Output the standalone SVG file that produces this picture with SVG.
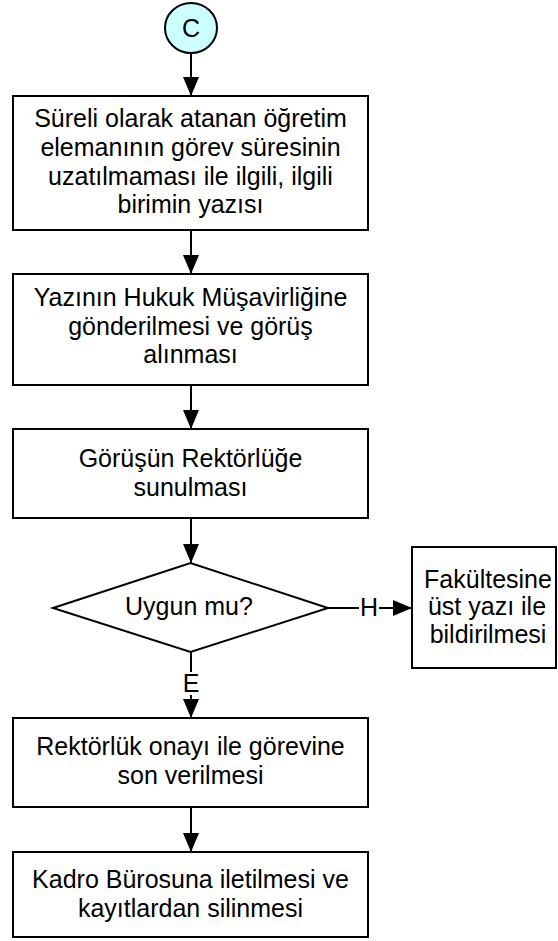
<svg xmlns="http://www.w3.org/2000/svg" width="558" height="941" viewBox="0 0 558 941">
<style>
.box{fill:#ffffff;stroke:#000000;stroke-width:2}
.conn{fill:none;stroke:#000000;stroke-width:2}
text{font-family:"Liberation Sans",Arial,sans-serif;font-size:25px;fill:#000000;text-anchor:middle}
</style>
<defs>
<marker id="ah" markerWidth="20" markerHeight="16" refX="19" refY="8" orient="auto" markerUnits="userSpaceOnUse">
<path d="M0,0 L19,8 L0,16 z" fill="#000000"/>
</marker>
</defs>
<rect width="558" height="941" fill="#ffffff"/>
<g id="connectors">
<line class="conn" x1="191" y1="53" x2="191" y2="96" marker-end="url(#ah)"/>
<line class="conn" x1="191" y1="230" x2="191" y2="274" marker-end="url(#ah)"/>
<line class="conn" x1="191" y1="385" x2="191" y2="429" marker-end="url(#ah)"/>
<line class="conn" x1="191" y1="518" x2="191" y2="563" marker-end="url(#ah)"/>
<line class="conn" x1="191" y1="652" x2="191" y2="672"/>
<line class="conn" x1="191" y1="695" x2="191" y2="718" marker-end="url(#ah)"/>
<text x="191" y="692">E</text>
<line class="conn" x1="328" y1="608" x2="359" y2="608"/>
<line class="conn" x1="379" y1="608" x2="412" y2="608" marker-end="url(#ah)"/>
<text x="369" y="616">H</text>
<line class="conn" x1="191" y1="807" x2="191" y2="852" marker-end="url(#ah)"/>
</g>
<g id="start">
<ellipse cx="191" cy="28" rx="26" ry="25" fill="#ccffff" stroke="#000000" stroke-width="2"/>
<text x="191" y="37">C</text>
</g>
<g id="n1">
<rect class="box" x="13" y="96" width="355" height="134"/>
<text x="190.5" y="127">Süreli olarak atanan öğretim</text>
<text x="190.5" y="156">elemanının görev süresinin</text>
<text x="190.5" y="185">uzatılmaması ile ilgili, ilgili</text>
<text x="190.5" y="213">birimin yazısı</text>
</g>
<g id="n2">
<rect class="box" x="13" y="274" width="355" height="111"/>
<text x="190.5" y="306">Yazının Hukuk Müşavirliğine</text>
<text x="190.5" y="335">gönderilmesi ve görüş</text>
<text x="190.5" y="363">alınması</text>
</g>
<g id="n3">
<rect class="box" x="13" y="429" width="355" height="89"/>
<text x="190.5" y="467">Görüşün Rektörlüğe</text>
<text x="190.5" y="496">sunulması</text>
</g>
<g id="d1">
<polygon points="53,608 190.5,563 328,608 190.5,652" fill="#ffffff" stroke="#000000" stroke-width="2"/>
<text x="189" y="615">Uygun mu?</text>
</g>
<g id="n4">
<rect class="box" x="412" y="547" width="144" height="121"/>
<text x="488" y="588">Fakültesine</text>
<text x="487" y="615">üst yazı ile</text>
<text x="488" y="643">bildirilmesi</text>
</g>
<g id="n5">
<rect class="box" x="13" y="718" width="355" height="89"/>
<text x="190.5" y="755">Rektörlük onayı ile görevine</text>
<text x="190.5" y="784">son verilmesi</text>
</g>
<g id="n6">
<rect class="box" x="13" y="852" width="355" height="85"/>
<text x="190.5" y="888">Kadro Bürosuna iletilmesi ve</text>
<text x="190.5" y="917">kayıtlardan silinmesi</text>
</g>
</svg>
